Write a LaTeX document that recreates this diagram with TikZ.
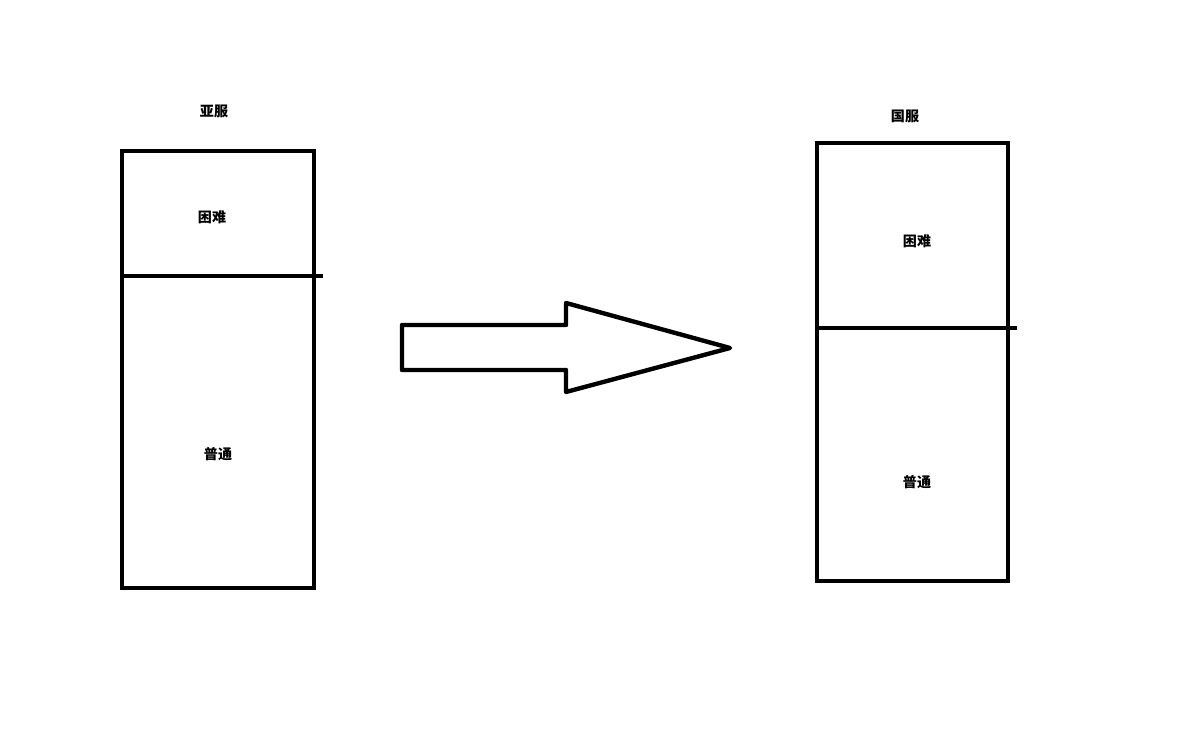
\documentclass[tikz,border=0pt]{standalone}
\usepackage{fontspec}
\setmainfont{Noto Sans CJK SC}
\usepackage{tikz}
\usetikzlibrary{positioning}

\begin{document}
\begin{tikzpicture}[every node/.style={font=\bfseries\fontsize{8}{9}\selectfont},
    server/.style={rectangle, draw, line width=2.5pt},
    divider/.style={line width=2.5pt},
    bigarrow/.style={line width=2.5pt, line join=round}]
    \useasboundingbox (0,0) rectangle (23.66,14.76);
    % left: asia server
    \node[server, minimum width=3.84cm, minimum height=8.74cm] (asia) at (4.36,7.37) {};
    \node at (4.28,12.54) (asiaLabel) {亚服};
    \coordinate (asiaCutL) at (asia.west |- 0,9.24);
    \coordinate (asiaCutR) at (6.46,9.24);
    \draw[divider] (asiaCutL) -- (asiaCutR);
    \node at (4.24,10.42) (asiaHard) {困难};
    \node at (4.36,5.68) (asiaNormal) {普通};
    % right: china server
    \node[server, minimum width=3.82cm, minimum height=8.76cm] (cn) at (18.25,7.52) {};
    \node at (18.1,12.44) (cnLabel) {国服};
    \coordinate (cnCutL) at (cn.west |- 0,8.2);
    \coordinate (cnCutR) at (20.34,8.2);
    \draw[divider] (cnCutL) -- (cnCutR);
    \node at (18.34,9.94) (cnHard) {困难};
    \node at (18.34,5.12) (cnNormal) {普通};
    % block arrow
    \draw[bigarrow] (8.04,8.26) -- (11.32,8.26) -- (11.32,8.70) -- (14.6,7.80)
        -- (11.32,6.92) -- (11.32,7.36) -- (8.04,7.36) -- cycle;
\end{tikzpicture}
\end{document}
